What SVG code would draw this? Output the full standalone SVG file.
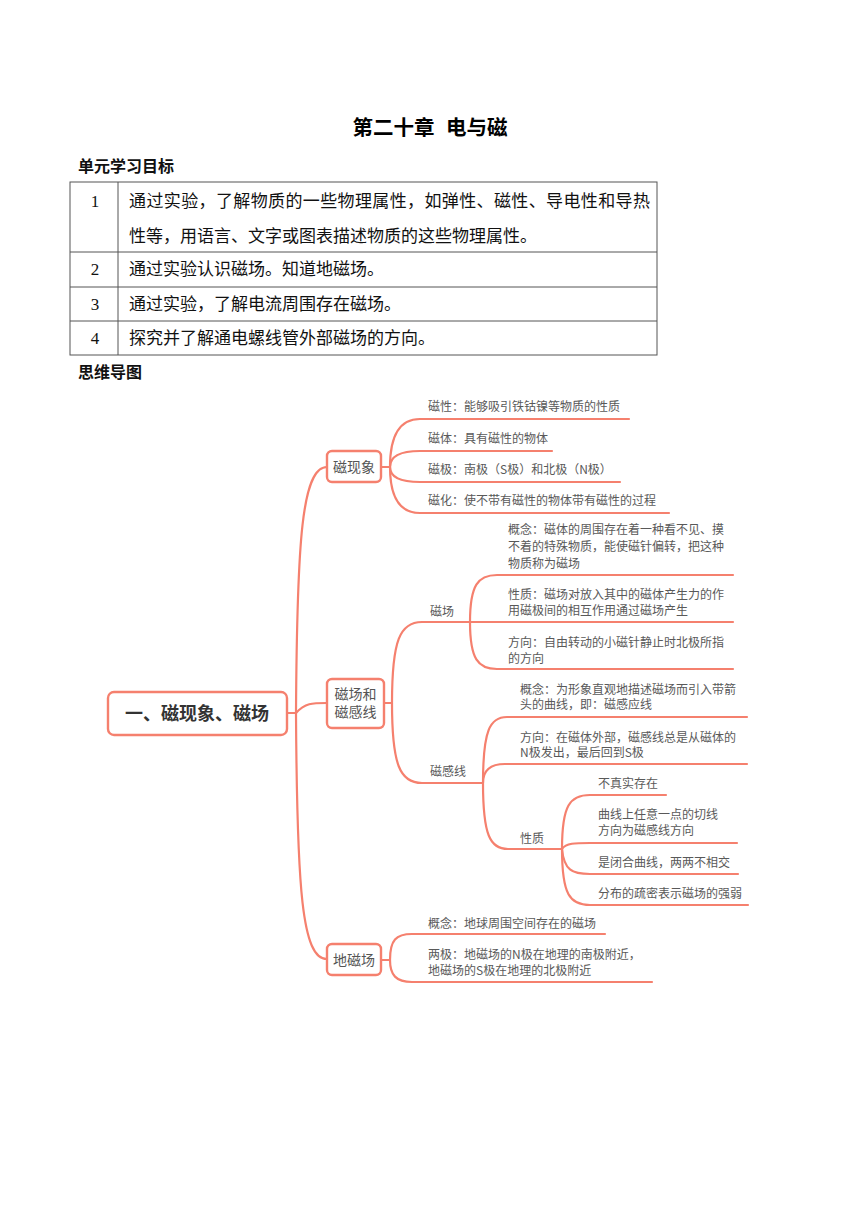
<svg xmlns="http://www.w3.org/2000/svg" width="860" height="1216" viewBox="0 0 860 1216">
<style>
.bg{fill:#ffffff}
.title{font-family:"Liberation Sans","Noto Sans CJK SC",sans-serif;font-size:20.5px;font-weight:bold;fill:#000}
.head{font-family:"Liberation Sans","Noto Sans CJK SC",sans-serif;font-size:16px;font-weight:bold;fill:#111}
.cell{font-family:"Liberation Serif","Noto Sans CJK SC",serif;font-size:17px;fill:#111}
.num{font-family:"Liberation Serif","Noto Sans CJK SC",serif;font-size:17px;fill:#111;text-anchor:middle}
.tbl{fill:none;stroke:#555;stroke-width:1}
.ln{fill:none;stroke:#F5806E;stroke-width:2.2;stroke-linecap:round}
.box{fill:#fff;stroke:#F5806E;stroke-width:2.4}
.root{font-family:"Noto Sans CJK SC",sans-serif;font-size:18px;font-weight:bold;fill:#333;text-anchor:middle}
.n1{font-family:"Noto Sans CJK SC",sans-serif;font-size:14px;fill:#555;text-anchor:middle}
.t{font-family:"Noto Sans CJK SC",sans-serif;font-size:12px;fill:#595959}
</style>
<rect class="bg" x="0" y="0" width="860" height="1216"/>
<text class="title" x="430" y="135" text-anchor="middle">第二十章&#160;&#160;电与磁</text>
<text class="head" x="78" y="171.6">单元学习目标</text>
<g id="table">
<rect class="tbl" x="70" y="182" width="587" height="173"/>
<line class="tbl" x1="118" y1="182" x2="118" y2="355"/>
<line class="tbl" x1="70" y1="252" x2="657" y2="252"/>
<line class="tbl" x1="70" y1="287" x2="657" y2="287"/>
<line class="tbl" x1="70" y1="321" x2="657" y2="321"/>
<text class="num" x="95" y="207">1</text>
<text class="cell" x="129" y="207" textLength="521" lengthAdjust="spacing">通过实验，了解物质的一些物理属性，如弹性、磁性、导电性和导热</text>
<text class="cell" x="129" y="242" textLength="408" lengthAdjust="spacing">性等，用语言、文字或图表描述物质的这些物理属性。</text>
<text class="num" x="95" y="275">2</text>
<text class="cell" x="129" y="275" textLength="255" lengthAdjust="spacing">通过实验认识磁场。知道地磁场。</text>
<text class="num" x="95" y="310">3</text>
<text class="cell" x="129" y="310" textLength="272" lengthAdjust="spacing">通过实验，了解电流周围存在磁场。</text>
<text class="num" x="95" y="344">4</text>
<text class="cell" x="129" y="344" textLength="306" lengthAdjust="spacing">探究并了解通电螺线管外部磁场的方向。</text>
</g>
<text class="head" x="78" y="377.6">思维导图</text>
<g id="connectors">
<path class="ln" d="M287 713 L296 713"/>
<path class="ln" d="M296 713 C297 540 302 467 327 467"/>
<path class="ln" d="M296 713 C305 703 312 703 327 703"/>
<path class="ln" d="M296 713 C297 890 302 959 327 959"/>
<path class="ln" d="M381 467 L390 467"/>
<path class="ln" d="M390 467 Q390 419 420 419 L629 419"/>
<path class="ln" d="M390 467 Q390 451 420 451 L552 451"/>
<path class="ln" d="M390 467 Q390 482 420 482 L620 482"/>
<path class="ln" d="M390 467 Q390 513 420 513 L669 513"/>
<path class="ln" d="M384 703 L392 703"/>
<path class="ln" d="M392 703 C392 640 400 622 422 622 L470 622"/>
<path class="ln" d="M392 703 C392 765 400 783 422 783 L483 783"/>
<path class="ln" d="M470 622 C470 585 478 575 497 575 L733 575"/>
<path class="ln" d="M470 622 L733 622"/>
<path class="ln" d="M470 622 C470 659 478 669 497 669 L733 669"/>
<path class="ln" d="M483 783 C483 730 490 717 507 717 L747 717"/>
<path class="ln" d="M483 783 C483 770 490 764 505 764 L747 764"/>
<path class="ln" d="M483 783 C483 835 490 849 508 849 L562 849"/>
<path class="ln" d="M562 849 C562 805 570 795 590 795 L666 795"/>
<path class="ln" d="M562 849 C566 843 575 843 590 843 L737 843"/>
<path class="ln" d="M562 849 C564 870 572 874 590 874 L738 874"/>
<path class="ln" d="M562 849 C562 895 570 905 590 905 L748 905"/>
<path class="ln" d="M381 960 L390 960"/>
<path class="ln" d="M390 960 C390 940 396 934 412 934 L605 934"/>
<path class="ln" d="M390 960 C390 975 396 982 412 982 L652 982"/>
</g>
<g id="root">
<rect class="box" x="108" y="692" width="179" height="43" rx="6"/>
<text class="root" x="197" y="719.5">一、磁现象、磁场</text>
</g>
<g id="cixianxiang">
<rect class="box" x="327" y="451" width="54" height="31" rx="5"/>
<text class="n1" x="354" y="472">磁现象</text>
</g>
<g id="cichang-cigan">
<rect class="box" x="327" y="679" width="57" height="49" rx="5"/>
<text class="n1" x="355.5" y="699">磁场和</text>
<text class="n1" x="355.5" y="717">磁感线</text>
</g>
<g id="dicichang">
<rect class="box" x="327" y="944" width="54" height="31" rx="5"/>
<text class="n1" x="354" y="965">地磁场</text>
</g>
<g id="cixing"><text class="t" x="428" y="411.4">磁性：能够吸引铁钴镍等物质的性质</text></g>
<g id="citi"><text class="t" x="428" y="443.4">磁体：具有磁性的物体</text></g>
<g id="ciji"><text class="t" x="428" y="474.4">磁极：南极（S极）和北极（N极）</text></g>
<g id="cihua"><text class="t" x="428" y="505.4">磁化：使不带有磁性的物体带有磁性的过程</text></g>
<g id="cichang"><text class="t" x="430" y="616.4">磁场</text></g>
<g id="cichang-gainian">
<text class="t" x="508" y="534.4">概念：磁体的周围存在着一种看不见、摸</text>
<text class="t" x="508" y="551.4">不着的特殊物质，能使磁针偏转，把这种</text>
<text class="t" x="508" y="568.4">物质称为磁场</text>
</g>
<g id="cichang-xingzhi">
<text class="t" x="508" y="599.4">性质：磁场对放入其中的磁体产生力的作</text>
<text class="t" x="508" y="615.4">用磁极间的相互作用通过磁场产生</text>
</g>
<g id="cichang-fangxiang">
<text class="t" x="508" y="647.4">方向：自由转动的小磁针静止时北极所指</text>
<text class="t" x="508" y="663.4">的方向</text>
</g>
<g id="ciganxian"><text class="t" x="430" y="776.4">磁感线</text></g>
<g id="cgx-gainian">
<text class="t" x="520" y="694.4">概念：为形象直观地描述磁场而引入带箭</text>
<text class="t" x="520" y="709.4">头的曲线，即：磁感应线</text>
</g>
<g id="cgx-fangxiang">
<text class="t" x="520" y="742.4">方向：在磁体外部，磁感线总是从磁体的</text>
<text class="t" x="520" y="757.4">N极发出，最后回到S极</text>
</g>
<g id="cgx-xingzhi"><text class="t" x="520" y="843.4">性质</text></g>
<g id="xz1"><text class="t" x="598" y="788.4">不真实存在</text></g>
<g id="xz2">
<text class="t" x="598" y="819.4">曲线上任意一点的切线</text>
<text class="t" x="598" y="835.4">方向为磁感线方向</text>
</g>
<g id="xz3"><text class="t" x="598" y="867.4">是闭合曲线，两两不相交</text></g>
<g id="xz4"><text class="t" x="598" y="898.4">分布的疏密表示磁场的强弱</text></g>
<g id="dc-gainian"><text class="t" x="428" y="928.4">概念：地球周围空间存在的磁场</text></g>
<g id="dc-liangji">
<text class="t" x="428" y="959.4">两极：地磁场的N极在地理的南极附近，</text>
<text class="t" x="428" y="975.4">地磁场的S极在地理的北极附近</text>
</g>
</svg>
